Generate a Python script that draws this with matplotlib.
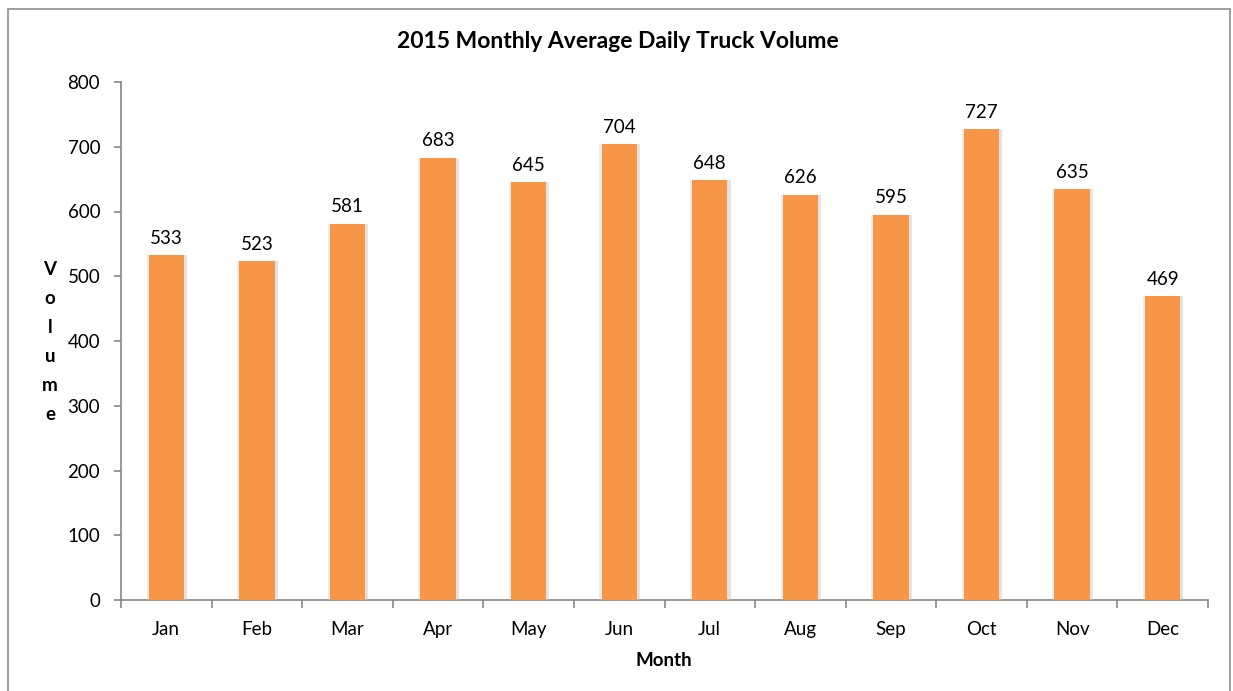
import matplotlib
matplotlib.use("Agg")
import matplotlib.pyplot as plt
import matplotlib.patheffects as pe
from matplotlib.patches import Rectangle

months = ["Jan", "Feb", "Mar", "Apr", "May", "Jun", "Jul", "Aug", "Sep", "Oct", "Nov", "Dec"]
volumes = [533, 523, 581, 683, 645, 704, 648, 626, 595, 727, 635, 469]
yticks = [0, 100, 200, 300, 400, 500, 600, 700, 800]

plt.rcParams['font.family'] = ['Lato', 'DejaVu Sans']

W, H = 1233, 691
fig = plt.figure(figsize=(W / 100, H / 100), dpi=100)
fig.patches.append(Rectangle((8 / W, -0.05), (1230 - 8) / W, 1.05 - 9 / H,
                             transform=fig.transFigure, fill=False,
                             edgecolor="#8c8c8c", linewidth=1.2))

ax = fig.add_axes([121 / W, 1 - 600 / H, (1208 - 121) / W, (600 - 82) / H])
x = list(range(len(months)))
bars = ax.bar(x, volumes, width=0.39, color="#F79646", zorder=3,
              path_effects=[pe.SimplePatchShadow(offset=(2.2, 0), shadow_rgbFace="#c8c8c8", alpha=0.5),
                            pe.SimplePatchShadow(offset=(-1.5, 0), shadow_rgbFace="#c8c8c8", alpha=0.35),
                            pe.Normal()])
for xi, v in zip(x, volumes):
    ax.annotate(f"{v}", (xi, v), xytext=(0, 6), textcoords="offset points",
                ha="center", va="bottom", fontsize=13.5, color="black")

ax.set_xlim(-0.5, len(months) - 0.5)
ax.set_ylim(0, 800)
ax.set_yticks(yticks)
ax.set_yticklabels([str(t) for t in yticks], fontsize=13.5)
ax.set_xticks(x)
ax.set_xticklabels(months, fontsize=13.5)
ax.tick_params(axis="x", length=0, pad=15)
ax.set_xticks([i - 0.5 for i in range(len(months) + 1)], minor=True)
ax.tick_params(axis="x", which="minor", length=6, color="#868686", width=1.2)
ax.tick_params(axis="y", length=5, color="#868686", width=1.2, pad=10)

for s in ["top", "right"]:
    ax.spines[s].set_visible(False)
for s in ["left", "bottom"]:
    ax.spines[s].set_color("#868686")
    ax.spines[s].set_linewidth(1.2)

fig.text(618 / W, 1 - 42 / H, "2015 Monthly Average Daily Truck Volume",
         ha="center", va="center", fontsize=16.5, fontweight="bold")
fig.text(664 / W, 1 - 660 / H, "Month", ha="center", va="center",
         fontsize=13.5, fontweight="bold")
fig.text(50 / W, 1 - 342 / H, "\n".join("Volume"), ha="center", va="center",
         fontsize=13.5, fontweight="bold", linespacing=1.85)

fig.savefig("out.png", dpi=100)
